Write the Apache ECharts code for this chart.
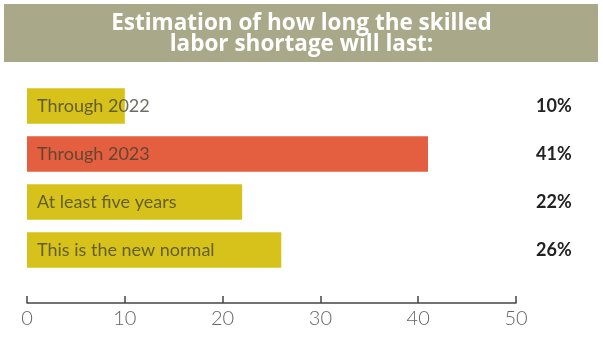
<!DOCTYPE html>
<html><head><meta charset="utf-8">
<script src="https://cdn.jsdelivr.net/npm/echarts@6/dist/echarts.min.js"></script>
<style>html,body{margin:0;padding:0;background:#fff}#c{width:603px;height:339px}</style>
</head><body><div id="c"></div>
<script>
const titleText = 'Estimation of how long the skilled\nlabor shortage will last:';
const categories = ['Through 2022', 'Through 2023', 'At least five years', 'This is the new normal'];
const values = [10, 41, 22, 26];
const percentLabels = ['10%', '41%', '22%', '26%'];
const barColors = ['#d6c21a', '#e35f3f', '#d6c21a', '#d6c21a'];
const xTicks = [0, 10, 20, 30, 40, 50];

const chart = echarts.init(document.getElementById('c'), null, {renderer: 'canvas'});
chart.setOption({
  animation: false,
  graphic: [{
    type: 'rect', left: 4, top: 4, z: 0,
    shape: {width: 594, height: 58},
    style: {fill: '#a9a98a'}
  }],
  title: {
    text: titleText,
    left: 'center', top: 8, z: 10,
    textStyle: {color: '#ffffff', fontFamily: 'Open Sans', fontWeight: 'bold', fontSize: 22.5, lineHeight: 21}
  },
  grid: {left: 27, right: 87, top: 82, bottom: 65},
  xAxis: {
    type: 'value', min: xTicks[0], max: xTicks[xTicks.length - 1], interval: 10,
    offset: 29,
    axisLine: {show: true, lineStyle: {color: '#444', width: 1.5}},
    axisTick: {show: true, inside: true, length: 7, lineStyle: {color: '#444', width: 1.5}},
    splitLine: {show: false},
    axisLabel: {color: '#666', fontFamily: 'Lato', fontWeight: 300, fontSize: 20, margin: 6}
  },
  yAxis: [{
    type: 'category', data: categories, inverse: true,
    axisLine: {show: false}, axisTick: {show: false}, axisLabel: {show: false}
  }, {
    type: 'category', data: percentLabels, inverse: true, position: 'right',
    axisLine: {show: false}, axisTick: {show: false},
    axisLabel: {color: '#222', fontFamily: 'Lato', fontWeight: 'bold', fontSize: 18, margin: 20}
  }],
  series: [{
    type: 'bar',
    data: values.map((v, i) => ({value: v, itemStyle: {color: barColors[i]}})),
    barCategoryGap: '26%',
    label: {
      show: true, position: 'insideLeft', distance: 10,
      formatter: p => categories[p.dataIndex],
      color: 'rgba(60,60,45,0.75)', fontFamily: 'Lato', fontSize: 18
    }
  }]
});
</script></body></html>
